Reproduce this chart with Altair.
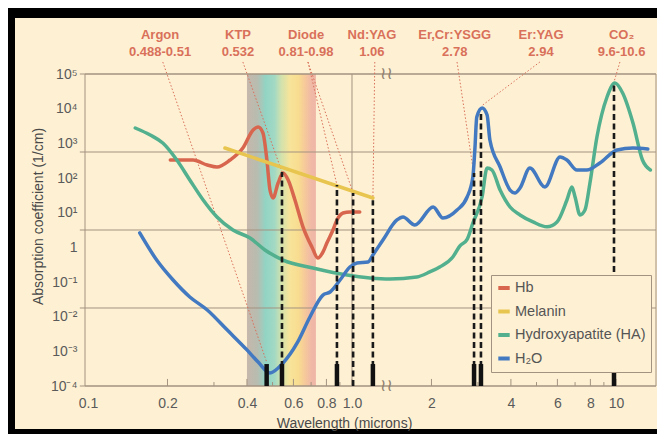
import altair as alt
import pandas as pd

# ---------------- data ----------------
hb_x = [0.205, 0.250, 0.283, 0.308, 0.345, 0.386, 0.422, 0.441, 0.460, 0.476, 0.489, 0.502,
        0.525, 0.548, 0.573, 0.608, 0.652, 0.705, 0.743, 0.776, 0.803, 0.847, 0.877, 0.925,
        0.982, 1.07]
hb_y = [330, 330, 237, 208, 330, 735, 2430, 2960, 1990, 330, 45, 26.5,
        71.8, 140, 87.7, 23.2, 3.9, 1.02, 0.49, 0.73, 1.33, 3.16, 6.15, 9.8,
        10.5, 10.5]

mel_x = [0.330, 1.20]
mel_y = [735, 26.5]

ha_x = [0.151, 0.172, 0.192, 0.217, 0.243, 0.273, 0.308, 0.354, 0.411, 0.468, 0.548, 0.711,
        0.957, 1.17, 1.39, 1.76, 1.97, 2.15, 2.41, 2.56, 2.73, 2.87, 3.11, 3.25, 3.39,
        3.64, 3.97, 4.33, 4.85, 5.48, 5.98, 6.52, 6.81, 7.0, 7.31, 7.63, 7.97, 8.47,
        9.25, 9.91, 10.6, 11.6, 12.6, 13.5]
ha_y = [2770, 1740, 1020, 330, 87.7, 23.2, 7.5, 3.16, 1.86, 0.84, 0.43, 0.254,
        0.159, 0.131, 0.122, 0.140, 0.195, 0.271, 0.527, 1.09, 1.7, 5.0, 28.3, 195, 170,
        45, 14.6, 8.6, 5.4, 3.9, 5.4, 23.2, 55, 28.3, 8.6, 11.9, 71.8, 1520,
        21700, 55000, 28300, 3860, 330, 170]

h2o_x = [0.157, 0.182, 0.210, 0.243, 0.283, 0.337, 0.400, 0.441, 0.489, 0.548, 0.620, 0.693,
         0.776, 0.826, 0.901, 0.982, 1.045, 1.15, 1.20, 1.31, 1.48, 1.56, 1.73, 2.03,
         2.21, 2.50, 2.73, 2.87, 2.92, 2.97, 3.11, 3.25, 3.33, 3.64, 3.97, 4.14, 4.33,
         4.72, 5.38, 6.14, 6.52, 7.11, 7.76, 8.69, 10.1, 11.6, 13.2]
h2o_y = [2.6, 0.43, 0.114, 0.037, 0.0156, 0.0041, 0.0011, 0.00049, 0.000238, 0.00046, 0.00174, 0.0098,
         0.042, 0.0515, 0.114, 0.271, 0.354, 0.378, 0.60, 1.63, 6.15, 7.5, 4.4, 14.6,
         7.0, 11.9, 28.3, 107, 643, 5750, 10400, 6560, 1250, 208, 45, 37, 51.5,
         195, 55, 404, 330, 170, 170, 271, 643, 735, 687]

series_names = ["Hb", "Melanin", "Hydroxyapatite (HA)", "H\u2082O"]
series_colors = ["#d8664e", "#e8c54e", "#52b08e", "#4279c0"]

# laser lines
dash_x = [0.543, 0.877, 1.01, 1.20, 2.90, 3.08, 9.83]
dash_top = [150, 63, 37, 23, 140, 7000, 55000]
bar_x = [0.475, 0.543, 0.877, 1.20, 2.90, 3.08, 9.83]
bar_top = 4.3e-4

laser_names = ["Argon", "KTP", "Diode", "Nd:YAG", "Er,Cr:YSGG", "Er:YAG", "CO\u2082"]
laser_ranges = ["0.488-0.51", "0.532", "0.81-0.98", "1.06", "2.78", "2.94", "9.6-10.6"]
laser_label_x = [0.1875, 0.370, 0.670, 1.19, 2.45, 5.20, 10.5]

# leader lines: label foot -> target
lead_x0 = [0.192, 0.386, 0.681, 0.681, 1.22, 2.50, 5.15, 10.35]
lead_x1 = [0.475, 0.543, 0.877, 1.01, 1.20, 2.86, 3.13, 9.83]
lead_y1 = [4.9e-4, 149, 63, 37, 23, 240, 12800, 59000]
lead_y0 = 2.22e5

# visible spectrum band
band_x = [0.40]
band_x2 = [0.73]

# axis ticks / labels
y_ticks = [1e-4, 1e-3, 1e-2, 1e-1, 1, 10, 100, 1e3, 1e4, 1e5]
x_ticks = [0.1, 0.2, 0.4, 0.6, 0.8, 1.0, 2, 4, 6, 8, 10]
x_major_inner = [0.2, 0.4, 0.6, 0.8, 1.0, 2, 4, 6, 8, 10]
x_minor_inner = [0.3, 0.5, 0.7, 0.9, 3, 5, 7, 9]
grid_y = [1e5, 562, 3.16, 0.0178, 1e-4]

XMIN, XMAX = 0.0974, 14.18
YMIN, YMAX = 1e-4, 1e5

# ---------------- styles ----------------
cream = "#fef1d3"
frame = "#a39280"
salmon = "#d9705a"
axis_font = "Liberation Sans"
label_font = "Liberation Sans"

xs = alt.Scale(type="log", domain=[XMIN, XMAX], nice=False)
ys = alt.Scale(type="log", domain=[YMIN, YMAX], nice=False)

xaxis = alt.Axis(
    values=x_ticks, grid=False, ticks=False, domain=False, labelOverlap=False, labelFlush=False,
    labelExpr="datum.value == 1 ? '1.0' : (datum.value < 1 ? format(datum.value, '.1f') : format(datum.value, 'd'))",
    labelFont=axis_font, labelFontSize=14, labelColor="#5a5a5a", labelPadding=10,
    title="Wavelength (microns)", titleFont=axis_font, titleFontSize=14, titleFontWeight="normal",
    titleColor="#4a4a4a", titleX=259, titleY=37, titleAlign="center", titleBaseline="middle",
    zindex=2,
)
yaxis = alt.Axis(
    values=y_ticks, grid=False, ticks=False, domain=False, labelOverlap=False, labelFlush=False,
    labelExpr="['10\u207b\u2074','10\u207b\u00b3','10\u207b\u00b2','10\u207b\u00b9','1','10\u00b9','10\u00b2','10\u00b3','10\u2074','10\u2075'][round(log(datum.value)/LN10)+4]",
    labelFont=axis_font, labelFontSize=14, labelColor="#5a5a5a", labelPadding=8,
    title="Absorption coefficient (1/cm)", titleFont=axis_font, titleFontSize=14,
    titleFontWeight="normal", titleColor="#4a4a4a", titleX=-47, titleY=142,
    titleAngle=-90, titleAlign="center", titleBaseline="middle",
    zindex=2,
)


def X(f):
    return alt.X(f, scale=xs, axis=xaxis, title="Wavelength (microns)")


def Y(f):
    return alt.Y(f, scale=ys, axis=yaxis, title="Absorption coefficient (1/cm)")


# ---------------- frames ----------------
curve_rows = []
for n, xs_, ys_ in zip(series_names, [hb_x, mel_x, ha_x, h2o_x], [hb_y, mel_y, ha_y, h2o_y]):
    for a, b in zip(xs_, ys_):
        curve_rows.append({"name": n, "wl": a, "ab": b})
curve_df = pd.DataFrame(curve_rows)

one = pd.DataFrame({"k": [0]})

# black picture frame (top, left, bottom edges)
frame_top = alt.Chart(one).mark_rect(color="#000000").encode(
    x=alt.value(-77), x2=alt.value(580), y=alt.value(-66), y2=alt.value(-56)
)
frame_left = alt.Chart(one).mark_rect(color="#000000").encode(
    x=alt.value(-77), x2=alt.value(-70), y=alt.value(-66), y2=alt.value(360)
)
frame_bottom = alt.Chart(one).mark_rect(color="#000000").encode(
    x=alt.value(-77), x2=alt.value(580), y=alt.value(355), y2=alt.value(360)
)

band = alt.Chart(pd.DataFrame({"x": band_x, "x2": band_x2, "y": [YMIN], "y2": [YMAX]})).mark_rect(
    color=alt.LinearGradient(
        gradient="linear", x1=0, x2=1, y1=0, y2=0,
        stops=[
            alt.GradientStop(color="#c6b7ab", offset=0),
            alt.GradientStop(color="#b8bcb0", offset=0.15),
            alt.GradientStop(color="#92d4c4", offset=0.27),
            alt.GradientStop(color="#a2d9c4", offset=0.40),
            alt.GradientStop(color="#d3e2ac", offset=0.50),
            alt.GradientStop(color="#f7e49a", offset=0.62),
            alt.GradientStop(color="#f8dc90", offset=0.75),
            alt.GradientStop(color="#f6c99a", offset=0.84),
            alt.GradientStop(color="#f0b9a6", offset=0.93),
            alt.GradientStop(color="#efb6a6", offset=1.0),
        ],
    )
).encode(x=X("x:Q"), x2="x2:Q", y=Y("y:Q"), y2="y2:Q")

grid_df = pd.DataFrame({"y": grid_y, "x": [0.0931] * len(grid_y), "x2": [XMAX] * len(grid_y)})
hgrid = alt.Chart(grid_df).mark_rule(color=frame, strokeWidth=1).encode(
    x=X("x:Q"), x2="x2:Q", y=Y("y:Q")
)
vgrid = alt.Chart(pd.DataFrame({"x": [1.0], "y": [YMIN], "y2": [YMAX]})).mark_rule(
    color=frame, strokeWidth=1
).encode(x=X("x:Q"), y=Y("y:Q"), y2="y2:Q")
box = alt.Chart(pd.DataFrame({"x": [XMIN], "x2": [XMAX], "y": [YMIN], "y2": [YMAX]})).mark_rect(
    filled=False, stroke=frame, strokeWidth=1
).encode(x=X("x:Q"), x2="x2:Q", y=Y("y:Q"), y2="y2:Q")

tick_df = pd.DataFrame({
    "x": x_major_inner + x_minor_inner,
    "y": [YMIN] * (len(x_major_inner) + len(x_minor_inner)),
    "y2": [1.6e-4] * len(x_major_inner) + [1.3e-4] * len(x_minor_inner),
})
ticks = alt.Chart(tick_df).mark_rule(color=frame, strokeWidth=1).encode(
    x=X("x:Q"), y=Y("y:Q"), y2="y2:Q"
)

lead_df = pd.DataFrame({"x": lead_x0, "x2": lead_x1, "y": [lead_y0] * len(lead_x0), "y2": lead_y1})
leaders = alt.Chart(lead_df).mark_rule(color=salmon, strokeWidth=1, strokeDash=[1.5, 2]).encode(
    x=X("x:Q"), x2="x2:Q", y=Y("y:Q"), y2="y2:Q"
)

curves = alt.Chart(curve_df).mark_line(
    strokeWidth=3.5, interpolate="monotone", strokeCap="round", strokeJoin="round"
).encode(
    x=X("wl:Q"),
    y=Y("ab:Q"),
    color=alt.Color("name:N", scale=alt.Scale(domain=series_names, range=series_colors),
                    sort=series_names,
                    legend=alt.Legend(
                        orient="none", legendX=406, legendY=201, title=None,
                        symbolType="stroke", symbolStrokeWidth=4, symbolSize=130,
                        labelFont=axis_font, labelFontSize=14.5, labelColor="#555555",
                        strokeColor=frame, fillColor=cream, padding=5, rowPadding=7.5,
                        labelOffset=3,
                    )),
)

dash_df = pd.DataFrame({"x": dash_x, "y": [YMIN] * len(dash_x), "y2": dash_top})
dashes = alt.Chart(dash_df).mark_rule(color="#1a1a1a", strokeWidth=2.6, strokeDash=[6, 3.5]).encode(
    x=X("x:Q"), y=Y("y:Q"), y2="y2:Q"
)

bar_df = pd.DataFrame({"x": bar_x, "y": [YMIN] * len(bar_x), "y2": [bar_top] * len(bar_x)})
bars = alt.Chart(bar_df).mark_rule(color="#111111", strokeWidth=4.5).encode(
    x=X("x:Q"), y=Y("y:Q"), y2="y2:Q"
)

lab_df = pd.DataFrame({"x": laser_label_x, "name": laser_names, "rng": laser_ranges})
lab1 = alt.Chart(lab_df).mark_text(
    font=label_font, fontSize=13, fontWeight="bold", color=salmon, baseline="middle", align="center"
).encode(x=X("x:Q"), y=alt.value(-39), text="name:N")
lab2 = alt.Chart(lab_df).mark_text(
    font=label_font, fontSize=13, fontWeight="bold", color=salmon, baseline="middle", align="center"
).encode(x=X("x:Q"), y=alt.value(-22), text="rng:N")

brk_df = pd.DataFrame({"x": [1.35, 1.35], "y": [YMAX, YMIN]})
brk = alt.Chart(brk_df).mark_text(
    text="\u2240\u2240", fontSize=17, color="#8f8070", font="DejaVu Sans", baseline="middle", align="center"
).encode(x=X("x:Q"), y=Y("y:Q"))

chart = alt.layer(
    frame_top, frame_left, frame_bottom, band, hgrid, vgrid, box, ticks, leaders, curves,
    dashes, bars, lab1, lab2, brk
).properties(
    width=571, height=312,
    padding={"left": 77, "top": 66, "right": 1, "bottom": 48},
    autosize=alt.AutoSizeParams(type="none"),
    background=cream,
).configure_view(stroke=None)

chart.save("out.html", embed_options={"renderer": "svg", "actions": False})
